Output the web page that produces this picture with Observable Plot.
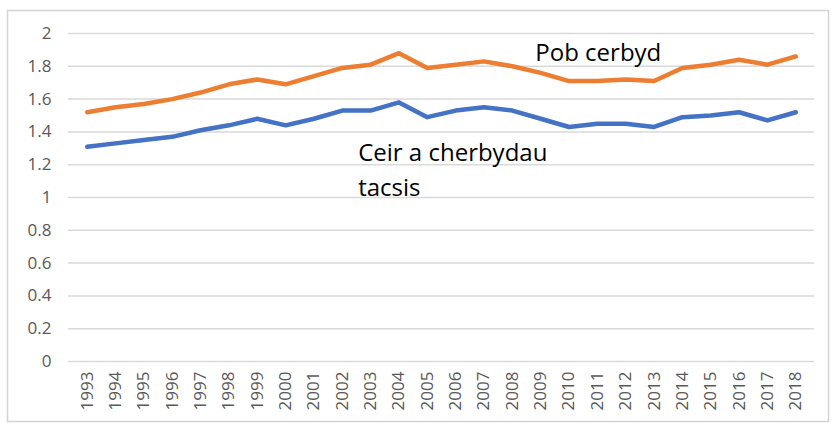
<!DOCTYPE html>
<html><head><meta charset="utf-8">
<script src="https://cdn.jsdelivr.net/npm/d3@7"></script>
<script src="https://cdn.jsdelivr.net/npm/@observablehq/plot@0.6"></script>
<style>body{margin:0;background:#fff}</style>
</head><body><div id="chart"></div>
<script>
const years = [1993,1994,1995,1996,1997,1998,1999,2000,2001,2002,2003,2004,2005,2006,2007,2008,2009,2010,2011,2012,2013,2014,2015,2016,2017,2018];
const pobCerbyd = [1.52,1.55,1.57,1.60,1.64,1.69,1.72,1.69,1.74,1.79,1.81,1.88,1.79,1.81,1.83,1.80,1.76,1.71,1.71,1.72,1.71,1.79,1.81,1.84,1.81,1.86];
const ceirTacsis = [1.31,1.33,1.35,1.37,1.41,1.44,1.48,1.44,1.48,1.53,1.53,1.58,1.49,1.53,1.55,1.53,1.48,1.43,1.45,1.45,1.43,1.49,1.50,1.52,1.47,1.52];
const yTicks = [0,0.2,0.4,0.6,0.8,1,1.2,1.4,1.6,1.8,2];
const seriesNames = ["Pob cerbyd", "Ceir a cherbydau\ntacsis"];
const seriesColors = ["#ED7D31", "#4472C4"];

const pobData = years.map((y, i) => ({year: y, value: pobCerbyd[i]}));
const ceirData = years.map((y, i) => ({year: y, value: ceirTacsis[i]}));

const chart = Plot.plot({
  width: 834,
  height: 423,
  marginLeft: 68,
  marginRight: 20,
  marginTop: 33,
  marginBottom: 62,
  style: {fontFamily: "'Open Sans', sans-serif", fontSize: "17px", color: "#595959", background: "#fff"},
  x: {type: "linear", domain: [1992.34, 2018.66], ticks: years, tickFormat: d => String(d), tickRotate: -90, tickSize: 0, tickPadding: 10, label: null},
  y: {domain: [0, 2], ticks: yTicks, tickFormat: d => String(d), tickSize: 0, tickPadding: 17, label: null},
  marks: [
    Plot.frame({stroke: "#d4d4d4", strokeWidth: 1.5, insetLeft: -61, insetTop: -23, insetRight: -14, insetBottom: -60}),
    Plot.gridY(yTicks, {stroke: "#d9d9d9", strokeOpacity: 1, strokeWidth: 1.5}),
    Plot.line(pobData, {x: "year", y: "value", stroke: seriesColors[0], strokeWidth: 4.5, strokeLinejoin: "round", strokeLinecap: "round"}),
    Plot.line(ceirData, {x: "year", y: "value", stroke: seriesColors[1], strokeWidth: 4.5, strokeLinejoin: "round", strokeLinecap: "round"}),
    Plot.text([seriesNames[0]], {x: 2008.81, y: 1.835, text: d => d, textAnchor: "start", lineAnchor: "bottom", fontSize: 24, fill: "#000"}),
    Plot.text([seriesNames[1]], {x: 2002.56, y: 1.012, text: d => d, textAnchor: "start", lineAnchor: "bottom", lineHeight: 1.46, fontSize: 24, fill: "#000"})
  ]
});
document.getElementById("chart").appendChild(chart);
</script>
</body></html>
